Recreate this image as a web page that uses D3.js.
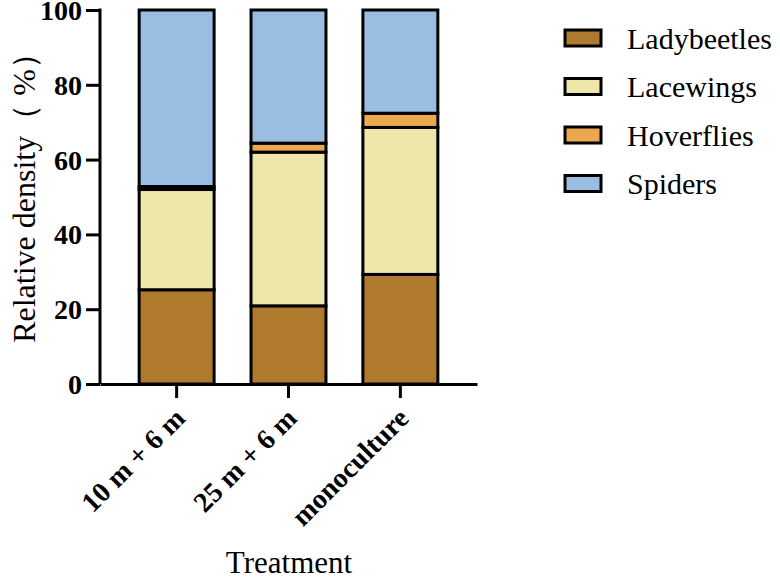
<!DOCTYPE html>
<html><head><meta charset="utf-8">
<script src="https://cdnjs.cloudflare.com/ajax/libs/d3/7.8.5/d3.min.js"></script>
<style>body{margin:0;background:#fff}svg{display:block}</style>
</head><body>
<script>
const categories = ["10 m + 6 m", "25 m + 6 m", "monoculture"];
const seriesNames = ["Ladybeetles", "Lacewings", "Hoverflies", "Spiders"];
const ladybeetles = [25.2, 20.9, 29.3];
const lacewings = [26.8, 41.1, 39.3];
const hoverflies = [0.8, 2.4, 3.8];
const spiders = [47.2, 35.6, 27.6];
const yTicks = [0, 20, 40, 60, 80, 100];
const colors = ["#B07A2E", "#EEE6AA", "#EBA84F", "#9ABDE2"];

const W = 780, H = 578;
const svg = d3.select("body").append("svg").attr("width", W).attr("height", H);
const font = "'Liberation Serif','Times New Roman',serif";

const x = d3.scaleBand().domain(categories).range([100, 477]).paddingInner(0.33).paddingOuter(0.35);
const y = d3.scaleLinear().domain([0, 100]).range([384, 10]);

const rows = categories.map((c, i) => ({cat: c, Ladybeetles: ladybeetles[i], Lacewings: lacewings[i], Hoverflies: hoverflies[i], Spiders: spiders[i]}));
const stacked = d3.stack().keys(seriesNames)(rows);

const g = svg.append("g");
stacked.forEach((s, si) => {
  g.selectAll(null).data(s).enter().append("rect")
    .attr("x", d => x(d.data.cat))
    .attr("width", x.bandwidth())
    .attr("y", d => y(d[1]))
    .attr("height", d => y(d[0]) - y(d[1]))
    .attr("fill", colors[si])
    .attr("stroke", "#000")
    .attr("stroke-width", 3);
});

// Y axis
const yAxis = svg.append("g").attr("transform", "translate(100,0)")
  .call(d3.axisLeft(y).tickValues(yTicks).tickSize(14).tickPadding(4));
yAxis.select(".domain").attr("stroke-width", 3).attr("d", "M0,384V8.5");
yAxis.selectAll(".tick line").attr("stroke-width", 3);
yAxis.selectAll("text").attr("font-family", font).attr("font-weight", "bold").attr("font-size", 28).attr("fill", "#000")
  .attr("dy", "0.34em");

// X axis
const xAxis = svg.append("g").attr("transform", "translate(0,384)")
  .call(d3.axisBottom(x).tickSize(14).tickSizeOuter(0));
xAxis.select(".domain").attr("stroke-width", 3);
xAxis.selectAll(".tick line").attr("stroke-width", 3);
xAxis.selectAll("text")
  .attr("font-family", font).attr("font-weight", "bold").attr("font-size", 28).attr("fill", "#000")
  .attr("text-anchor", "end").attr("dy", null).attr("y", 0)
  .attr("transform", "translate(10,36) rotate(-45)");

// Axis titles
svg.append("text").attr("transform", "translate(24,190) rotate(-90)")
  .attr("text-anchor", "middle").attr("dominant-baseline", "central")
  .attr("font-family", font).attr("font-size", 32).text("Relative density（ %）");
svg.append("text").attr("x", 289).attr("y", 573).attr("text-anchor", "middle")
  .attr("font-family", font).attr("font-size", 31).text("Treatment");

// Legend
const leg = svg.append("g");
seriesNames.forEach((n, i) => {
  const cy = 38 + i * 48.5;
  leg.append("rect").attr("x", 565).attr("y", cy - 8).attr("width", 36).attr("height", 16)
    .attr("fill", colors[i]).attr("stroke", "#000").attr("stroke-width", 3);
  leg.append("text").attr("x", 627).attr("y", cy).attr("dominant-baseline", "central")
    .attr("font-family", font).attr("font-size", 30).text(n);
});
</script>
</body></html>
